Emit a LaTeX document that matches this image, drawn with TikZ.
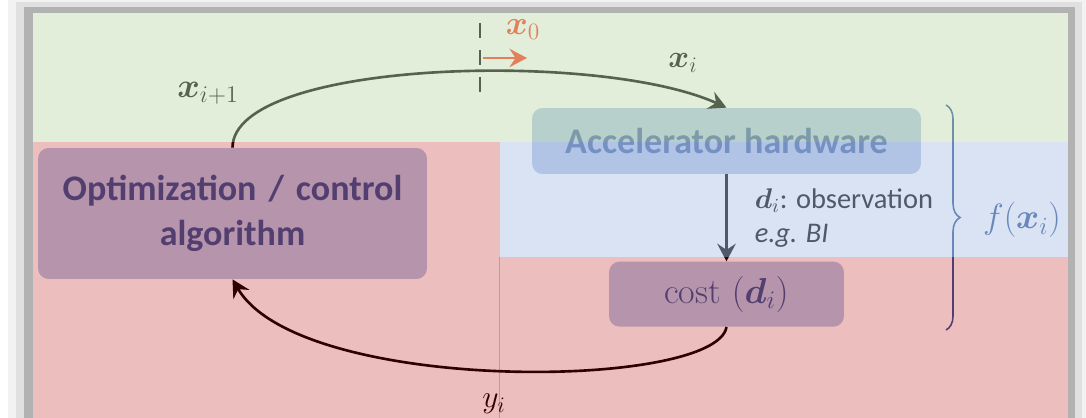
\RequirePackage{fix-cm}
\documentclass[tikz,border=0pt]{standalone}
\usepackage{fontspec}
\usepackage{amsmath,bm}
\setsansfont{Carlito}
\usetikzlibrary{positioning,arrows.meta,decorations.pathreplacing}
\definecolor{boxblue}{RGB}{180,199,231}
\definecolor{inkblue}{RGB}{47,85,151}
\definecolor{hwink}{RGB}{70,102,165}
\definecolor{zonegreen}{RGB}{191,219,173}
\definecolor{zoneblue}{RGB}{174,194,229}
\definecolor{zonered}{RGB}{188,0,0}
\definecolor{startorange}{RGB}{226,128,92}
\tikzstyle{block}=[
	rectangle,
	fill=boxblue,
	rounded corners=6pt,
	text centered,
	text=inkblue,
	inner sep=0pt,
	font=\sffamily\bfseries\fontsize{20.5}{25.5}\selectfont]
\tikzstyle{flow}=[line width=1.5pt,-{Stealth[length=10pt,width=10.5pt,inset=3.5pt]}]
\tikzstyle{zone}=[fill opacity=0.45]
\tikzstyle{sym}=[inner sep=0pt,font=\fontsize{18}{20}\selectfont]

\begin{document}
\begin{tikzpicture}[x=0.02cm,y=-0.02cm]

		\useasboundingbox (0,0) rectangle (1086,418);
		\fill[black!5] (8,0) rectangle (1086,418);
		\fill[black!12] (16,2) rectangle (1082,418);
		\fill[black!30] (24,7) rectangle (1075,418);
		\fill[white] (33,13) rectangle (1068,418);

		\node (Optimizer) [block, minimum width=7.78cm, minimum height=2.62cm, text width=7.5cm] at (232.5,213.5) {
			Optimization / control\\ algorithm
		};

		\node (Hardware) [block, text=hwink, minimum width=7.78cm, minimum height=1.32cm] at (726.5,141) {
			Accelerator hardware
		};

		\node (Cost) [block, font=\fontsize{20.5}{24}\selectfont, minimum width=4.7cm, minimum height=1.3cm, below=1.74cm of Hardware] {
			cost $(\bm{d}_i)$
		};

		\draw[flow] (Optimizer.north) .. controls (233,60) and (600,50) .. (Hardware.north);
		\draw[flow] (Hardware) -- node (Observation) [right=0.54cm, inner sep=0pt, align=left, font=\sffamily\fontsize{16.2}{19.3}\selectfont] {$\bm{d}_i$: observation\\ \textit{e.g. BI}} (Cost);
		\draw[flow] (Cost.south) .. controls (716,390) and (300,395) .. (Optimizer.south);

		\draw[line width=1.5pt, dash pattern=on 8.5pt off 7pt] (480,23) -- (480,93);

		\node (NextInput) [sym, font=\fontsize{19.5}{21}\selectfont] at (208,93) {$\bm{x}_{i+1}$};
		\node (Input) [sym] at (683,63) {$\bm{x}_i$};
		\node (Output) [sym] at (494,404) {$y_i$};
		\node (Objective) [sym, text=inkblue, font=\fontsize{20}{22}\selectfont] at (1022,220) {$f(\bm{x}_i)$};

		\coordinate (BraceTop) at (946,105);
		\coordinate (BraceBottom) at (946,330);
		\draw[inkblue, line width=0.9pt, decorate, decoration={brace, amplitude=8pt}] (BraceTop) -- (BraceBottom);

		\fill[zonegreen, zone] (33,13) rectangle (1068,142);
		\fill[zoneblue, zone, fill opacity=0.46] (500,142) rectangle (1068,257);
		\fill[zonered, zone, fill opacity=0.255] (33,142) rectangle (500,418);
		\fill[zonered, zone, fill opacity=0.255] (499,257) rectangle (1068,418);

		\coordinate (StartTail) at (483,58);
		\coordinate (StartHead) at (527,58);
		\draw[flow, startorange] (StartTail) -- (StartHead);
		\node (Start) [sym, text=startorange, font=\fontsize{19}{21}\selectfont] at (523,30) {$\bm{x}_0$};

	\end{tikzpicture}
\end{document}
